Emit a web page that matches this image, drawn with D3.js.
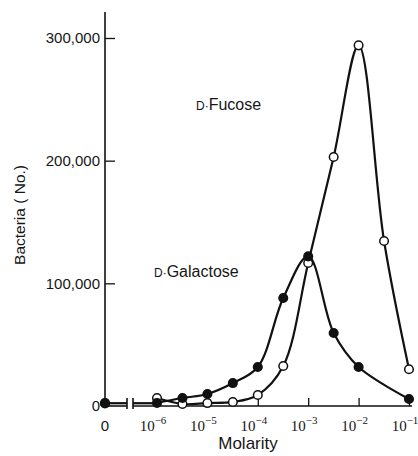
<!DOCTYPE html>
<html><head><meta charset="utf-8">
<script src="https://cdn.jsdelivr.net/npm/d3@7"></script>
<style>
html,body{margin:0;padding:0;background:#fff;}
text{font-family:"Liberation Sans",Arial,sans-serif;fill:#161616;}
</style></head>
<body><svg id="c" width="418" height="456"></svg>
<script>
// Molarity values (log-spaced concentrations); 0 plotted left of the axis break
const galMolarity = [1e-6, 3.2e-6, 1e-5, 3.2e-5, 1e-4, 3.2e-4, 1e-3, 3.2e-3, 1e-2, 1e-1];
const galBacteria = [2500, 6500, 9800, 18700, 31800, 88000, 122000, 59500, 31800, 5700];
const galZero = 2000;
const fucMolarity = [1e-6, 3.2e-6, 1e-5, 3.2e-5, 1e-4, 3.2e-4, 1e-3, 3.2e-3, 1e-2, 3.2e-2, 1e-1];
const fucBacteria = [6500, 1600, 2400, 3300, 9000, 32600, 116600, 203000, 294000, 134500, 30000];
const fucZero = 2500;
const xTickExps = ["6", "5", "4", "3", "2", "1"];
const xTickValues = [1e-6, 1e-5, 1e-4, 1e-3, 1e-2, 1e-1];
const yTickValues = [0, 100000, 200000, 300000];

const svg = d3.select("#c");
const x0 = 105, xBreakA = 127, xBreakB = 133;
const x = d3.scaleLog().domain([1e-6, 1e-1]).range([157, 409]);
const y = d3.scaleLinear().domain([0, 300000]).range([406, 38]);

// Y axis
const ya = svg.append("g").attr("transform", `translate(${x0},0)`)
  .call(d3.axisLeft(y).tickValues(yTickValues).tickSize(-10).tickPadding(5).tickFormat(d3.format(",")));
ya.select(".domain").remove();
ya.selectAll(".tick line").attr("stroke", "#111").attr("stroke-width", 1.3);
ya.selectAll(".tick text").style("font-size", "15px").attr("x", -5);
ya.selectAll(".tick").filter(d => d === 0).select("line").remove();
svg.append("line").attr("x1", x0).attr("x2", x0).attr("y1", y(0)).attr("y2", 12)
  .attr("stroke", "#111").attr("stroke-width", 1.6);

// X axis (with break)
const xa = svg.append("g").attr("transform", `translate(0,${y(0)})`)
  .call(d3.axisBottom(x).tickValues(xTickValues).tickSize(-8).tickFormat(""));
xa.select(".domain").remove();
xa.selectAll(".tick line").attr("stroke", "#111").attr("stroke-width", 1.3);
svg.append("line").attr("x1", x0).attr("x2", xBreakA).attr("y1", y(0)).attr("y2", y(0)).attr("stroke", "#111").attr("stroke-width", 1.6);
svg.append("line").attr("x1", xBreakB).attr("x2", 412).attr("y1", y(0)).attr("y2", y(0)).attr("stroke", "#111").attr("stroke-width", 1.6);
[xBreakA, xBreakB].forEach(bx => svg.append("line").attr("x1", bx).attr("x2", bx)
  .attr("y1", y(0) - 8).attr("y2", y(0) + 3).attr("stroke", "#111").attr("stroke-width", 1.6));

// X tick labels
xTickValues.forEach((v, i) => {
  const t = svg.append("text").attr("x", x(v) - 4).attr("y", 431).attr("text-anchor", "middle")
    .style("font-size", "15px").style("font-family", "'Liberation Serif','Times New Roman',serif");
  t.append("tspan").text("10");
  t.append("tspan").attr("dy", -7).style("font-size", "11px").text("−" + xTickExps[i]);
});
svg.append("text").attr("x", x0).attr("y", 431).attr("text-anchor", "middle").style("font-size", "15px").text("0");

// Axis titles
svg.append("text").attr("x", 248).attr("y", 449).attr("text-anchor", "middle").style("font-size", "17px").text("Molarity");
svg.append("text").attr("transform", "translate(25,215) rotate(-90)").attr("text-anchor", "middle")
  .style("font-size", "15.5px").text("Bacteria ( No.)");

// Series labels
function label(px, py, name) {
  const t = svg.append("text").attr("x", px).attr("y", py).style("font-size", "16px");
  t.append("tspan").style("font-size", "12px").text("D");
  t.append("tspan").style("font-size", "12px").text("·");
  t.append("tspan").text(name);
}
label(196, 110, "Fucose");
label(154, 277, "Galactose");

// Lines
const line = d3.line().x(d => x(d[0])).y(d => y(d[1])).curve(d3.curveCatmullRom.alpha(0.5));
function series(mol, vals, zero, open) {
  const pts = mol.map((m, i) => [m, vals[i]]);
  svg.append("path").datum(pts).attr("d", line).attr("fill", "none").attr("stroke", "#111").attr("stroke-width", 2.2);
  // short segments across the break
  svg.append("line").attr("x1", x0).attr("x2", xBreakA).attr("y1", y(zero)).attr("y2", y(zero)).attr("stroke", "#111").attr("stroke-width", 1.6);
  svg.append("line").attr("x1", xBreakB).attr("x2", x(mol[0])).attr("y1", y(zero)).attr("y2", y(zero)).attr("stroke", "#111").attr("stroke-width", 1.6);
  const all = [[null, zero]].concat(pts);
  svg.selectAll(null).data(all).enter().append("circle")
    .attr("cx", d => d[0] === null ? x0 : x(d[0])).attr("cy", d => y(d[1])).attr("r", 4.3)
    .attr("fill", open ? "#fff" : "#111").attr("stroke", "#111").attr("stroke-width", 1.5);
}
series(fucMolarity, fucBacteria, fucZero, true);
series(galMolarity, galBacteria, galZero, false);
</script></body></html>
